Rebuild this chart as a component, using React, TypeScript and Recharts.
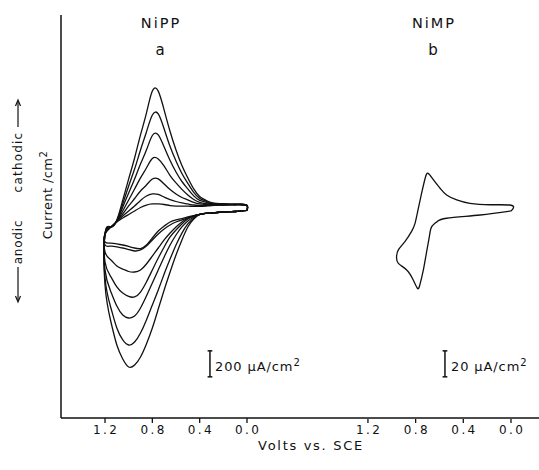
import React from 'react';
import { LineChart, Line, XAxis, YAxis, ReferenceLine } from 'recharts';

const FONT = '"DejaVu Sans", sans-serif';
const INK = '#111';

// a: NiPP, potential steps in V vs SCE
const NIPP_ANODIC_V = [0, 0.05, 0.1, 0.2, 0.3, 0.35, 0.4, 0.45, 0.5, 0.55, 0.6, 0.65, 0.7, 0.75, 0.8, 0.85, 0.9, 0.95, 1.0, 1.05, 1.1, 1.15, 1.2];
const NIPP_CATHODIC_V = [1.2, 1.15, 1.1, 1.05, 1.0, 0.95, 0.9, 0.85, 0.8, 0.75, 0.7, 0.65, 0.6, 0.55, 0.5, 0.45, 0.4, 0.35, 0.3, 0.2, 0.1, 0.05, 0];

// current density in uA/cm2 (cathodic positive), cycles from inner to outer
const NIPP_ANODIC_I = [
  [-19, -23, -27, -31, -39, -42, -50, -58, -69, -81, -92, -108, -139, -177, -231, -285, -312, -308, -296, -285, -277, -270, -262],
  [-19, -23, -27, -31, -39, -42, -50, -62, -77, -92, -108, -131, -162, -200, -246, -293, -323, -331, -320, -308, -300, -293, -285],
  [-19, -23, -27, -31, -39, -42, -50, -62, -77, -108, -146, -193, -246, -308, -370, -431, -477, -493, -489, -470, -447, -400, -339],
  [-19, -23, -27, -31, -39, -42, -50, -62, -85, -123, -169, -223, -300, -385, -477, -570, -647, -685, -681, -655, -608, -531, -416],
  [-19, -23, -27, -31, -39, -42, -50, -69, -100, -146, -208, -285, -377, -477, -578, -678, -770, -832, -847, -824, -755, -647, -477],
  [-19, -23, -27, -31, -39, -42, -50, -77, -123, -193, -285, -393, -508, -631, -747, -862, -963, -1032, -1055, -1016, -924, -770, -539],
  [-19, -23, -27, -31, -39, -42, -50, -85, -146, -246, -362, -493, -631, -778, -924, -1047, -1147, -1209, -1224, -1163, -1055, -878, -593],
];
const NIPP_CATHODIC_I = [
  [-200, -146, -108, -77, -50, -23, 4, 23, 31, 31, 27, 19, 15, 14, 14, 13, 13, 15, 19, 23, 27, 27, 19],
  [-200, -146, -104, -62, -23, 15, 58, 92, 108, 104, 84, 65, 50, 39, 31, 23, 20, 19, 23, 23, 27, 27, 19],
  [-200, -146, -100, -46, 16, 73, 131, 177, 223, 224, 185, 142, 108, 81, 62, 43, 31, 27, 27, 27, 27, 27, 19],
  [-200, -146, -100, -23, 62, 146, 232, 308, 381, 378, 323, 250, 193, 143, 100, 66, 43, 34, 31, 27, 27, 27, 19],
  [-200, -146, -100, 7, 116, 223, 339, 446, 558, 563, 469, 366, 277, 204, 147, 93, 58, 46, 34, 31, 27, 27, 19],
  [-200, -146, -96, 31, 170, 300, 447, 585, 716, 724, 608, 473, 362, 266, 189, 120, 74, 54, 38, 31, 27, 27, 19],
  [-200, -146, -93, 61, 224, 385, 563, 731, 900, 900, 754, 589, 447, 327, 231, 147, 89, 61, 42, 31, 27, 27, 19],
];

// b: NiMP, single cycle
const NIMP_ANODIC_V = [0, 0.26, 0.54, 0.62, 0.665, 0.685, 0.71, 0.735, 0.765, 0.785, 0.82, 0.875, 0.945, 0.96];
const NIMP_ANODIC_I = [-2.3, -5.4, -7.9, -10.5, -14.4, -22.1, -34.9, -47.7, -59.3, -61.8, -55.4, -47.7, -42.6, -37.5];
const NIMP_CATHODIC_V = [0.945, 0.89, 0.835, 0.805, 0.78, 0.75, 0.72, 0.695, 0.65, 0.595, 0.54, 0.455, 0.345, 0.175, 0.01, -0.02];
const NIMP_CATHODIC_I = [-32.3, -25.9, -18.2, -11.8, -1.5, 11.3, 22.9, 26.7, 21.6, 15.2, 10.0, 6.2, 3.6, 2.5, 2.3, 0];

const VOLT_TICKS = [1.2, 0.8, 0.4, 0.0];
const SCALE_A = 200; // uA/cm2
const SCALE_B = 20;

function loop(av: number[], ai: number[], cv: number[], ci: number[]) {
  const pts = av.map((v, k) => ({ v, i: ai[k] }));
  cv.forEach((v, k) => pts.push({ v, i: ci[k] }));
  pts.push(pts[0]);
  return pts;
}

const nippCycles = NIPP_ANODIC_I.map((ai, k) =>
  loop(NIPP_ANODIC_V, ai, NIPP_CATHODIC_V, NIPP_CATHODIC_I[k])
);
const nimpCycle = loop(NIMP_ANODIC_V, NIMP_ANODIC_I, NIMP_CATHODIC_V, NIMP_CATHODIC_I);

const VoltTick = (props: any) => {
  const { x, y, payload } = props;
  return (
    <text x={x + 1.2} y={y} dy={8.5} textAnchor="middle" fontSize={12} letterSpacing={2.4} fill={INK} fontFamily={FONT}>
      {Number(payload.value).toFixed(1)}
    </text>
  );
};

function scaleBar(axis: string, v: number, top: number, len: number, cap: number) {
  const seg = (a: any, b: any, key: string) => (
    <ReferenceLine key={key} xAxisId={axis} yAxisId={axis} segment={[a, b]} stroke={INK} strokeWidth={1.5} ifOverflow="visible" />
  );
  return [
    seg({ x: v, y: top }, { x: v, y: top - len }, axis + 'bar'),
    seg({ x: v - cap, y: top }, { x: v + cap, y: top }, axis + 'top'),
    seg({ x: v - cap, y: top - len }, { x: v + cap, y: top - len }, axis + 'bot'),
  ];
}

export default function App() {
  return (
    <div style={{ position: 'absolute', left: 0, top: 0, width: 539, height: 470, background: '#fff', fontFamily: FONT }}>
      <LineChart width={539} height={470} margin={{ top: 15, right: 0, bottom: 50, left: 0 }}>
        <XAxis
          xAxisId="a"
          dataKey="v"
          type="number"
          domain={[-2.468, 1.572]}
          reversed
          allowDataOverflow
          ticks={VOLT_TICKS}
          interval={0}
          height={1}
          tick={<VoltTick />}
          tickSize={5}
          tickMargin={2}
          tickLine={{ stroke: INK, strokeWidth: 1.3 }}
          axisLine={{ stroke: INK, strokeWidth: 1.6 }}
        />
        <XAxis
          xAxisId="b"
          dataKey="v"
          type="number"
          domain={[-0.235, 3.775]}
          reversed
          allowDataOverflow
          ticks={VOLT_TICKS}
          interval={0}
          height={1}
          tick={<VoltTick />}
          tickSize={4}
          tickMargin={2}
          tickLine={{ stroke: INK, strokeWidth: 1.3 }}
          axisLine={false}
        />
        <YAxis
          yAxisId="a"
          type="number"
          domain={[-1617, 1486]}
          allowDataOverflow
          width={61}
          tick={false}
          tickLine={false}
          axisLine={{ stroke: INK, strokeWidth: 1.5 }}
        />
        <YAxis yAxisId="b" type="number" domain={[-161.7, 148.6]} allowDataOverflow hide />
        {nippCycles.map((d, k) => (
          <Line
            key={'a' + k}
            xAxisId="a"
            yAxisId="a"
            data={d}
            dataKey="i"
            type="natural"
            stroke={INK}
            strokeWidth={1.3}
            dot={false}
            activeDot={false}
            isAnimationActive={false}
          />
        ))}
        <Line
          xAxisId="b"
          yAxisId="b"
          data={nimpCycle}
          dataKey="i"
          type="natural"
          stroke={INK}
          strokeWidth={1.3}
          dot={false}
          activeDot={false}
          isAnimationActive={false}
        />
        {scaleBar('a', 0.313, -1100, SCALE_A, 0.02)}
        {scaleBar('b', 0.554, -110, SCALE_B, 0.02)}
      </LineChart>

      <svg width={539} height={470} style={{ position: 'absolute', left: 0, top: 0, pointerEvents: 'none' }} fontFamily={FONT} fill={INK}>
        <text x={161} y={28} textAnchor="middle" fontSize={14.5} letterSpacing={2}>NiPP</text>
        <text x={160} y={55} textAnchor="middle" fontSize={15}>a</text>
        <text x={434} y={28} textAnchor="middle" fontSize={14.5} letterSpacing={2}>NiMP</text>
        <text x={433} y={55} textAnchor="middle" fontSize={15}>b</text>

        <text x={311} y={450} textAnchor="middle" fontSize={13} letterSpacing={1.7}>Volts vs. SCE</text>

        <text transform="translate(52,195) rotate(-90)" textAnchor="middle" fontSize={13} letterSpacing={0.4}>
          Current /cm<tspan dy={-5} fontSize={10}>2</tspan>
        </text>
        <text transform="translate(22,162) rotate(-90)" textAnchor="middle" fontSize={12} letterSpacing={1.2}>cathodic</text>
        <text transform="translate(22,242) rotate(-90)" textAnchor="middle" fontSize={12} letterSpacing={0.8}>anodic</text>
        <line x1={18} y1={127} x2={18} y2={102} stroke={INK} strokeWidth={1.2} />
        <path d="M15.5,106 L18,100 L20.5,106" fill="none" stroke={INK} strokeWidth={1.2} />
        <line x1={18} y1={267} x2={18} y2={300} stroke={INK} strokeWidth={1.2} />
        <path d="M15.5,296 L18,302 L20.5,296" fill="none" stroke={INK} strokeWidth={1.2} />

        <text x={215} y={371} fontSize={13} letterSpacing={0.9}>
          200 µA/cm<tspan dy={-5} fontSize={10}>2</tspan>
        </text>
        <text x={451} y={371} fontSize={13} letterSpacing={0.9}>
          20 µA/cm<tspan dy={-5} fontSize={10}>2</tspan>
        </text>
      </svg>
    </div>
  );
}
